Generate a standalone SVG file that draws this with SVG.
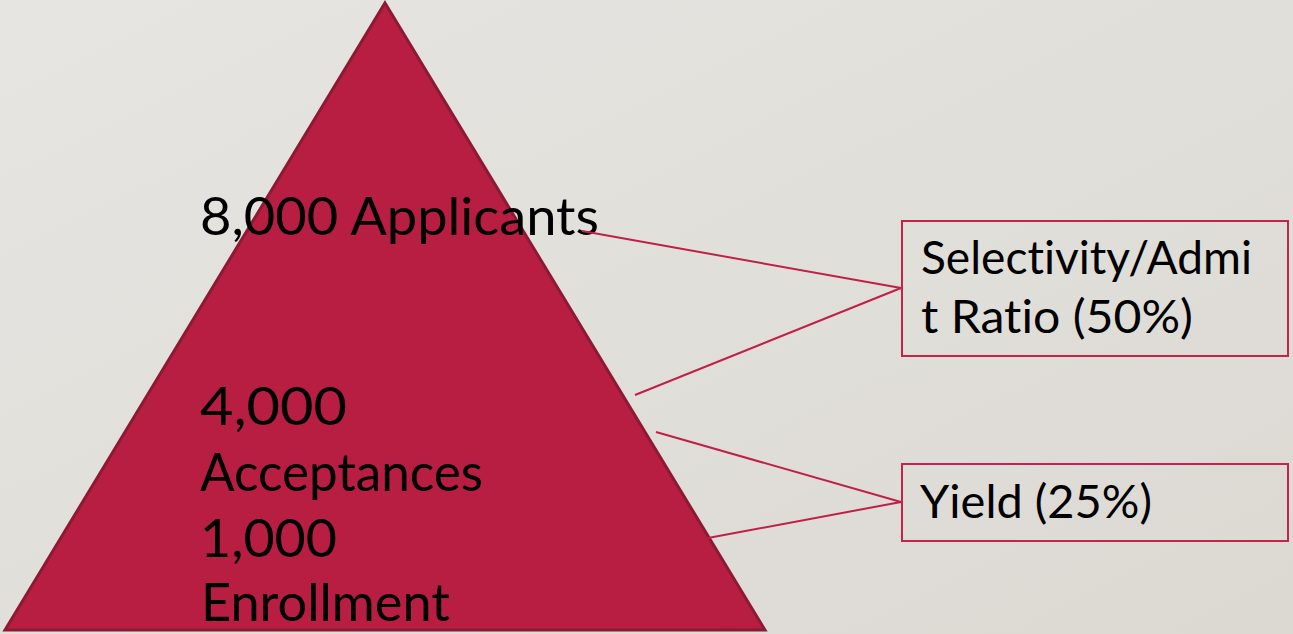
<svg xmlns="http://www.w3.org/2000/svg" width="1293" height="634" viewBox="0 0 1293 634">
<style>
.t{font-family:Lato,"Liberation Sans",sans-serif;fill:#000;font-variant-ligatures:none;font-feature-settings:"liga" 0}
.big{font-size:53px}
.sm{font-size:47px}
.box{fill:none;stroke:#c5234c;stroke-width:2}
.conn{stroke:#c11f48;stroke-width:2;fill:none}
</style>
<defs>
<linearGradient id="bg" x1="0" y1="0" x2="1" y2="1">
<stop offset="0" stop-color="#e6e5e1"/>
<stop offset="1" stop-color="#dcd9d3"/>
</linearGradient>
</defs>
<rect width="1293" height="634" fill="url(#bg)"/>
<g id="pyramid">
<polygon points="385,3 765,630 5,630" fill="#b71e42" stroke="#8d1a35" stroke-width="3" stroke-linejoin="miter"/>
<text class="t big" x="200" y="235" textLength="399" lengthAdjust="spacingAndGlyphs">8,000 Applicants</text>
<text class="t big" x="200" y="425" textLength="147" lengthAdjust="spacingAndGlyphs">4,000</text>
<text class="t big" x="200" y="491" textLength="283" lengthAdjust="spacingAndGlyphs">Acceptances</text>
<text class="t big" x="200" y="557" textLength="137" lengthAdjust="spacingAndGlyphs">1,000</text>
<text class="t big" x="201" y="621" textLength="249" lengthAdjust="spacingAndGlyphs">Enrollment</text>
</g>
<g id="connectors">
<line class="conn" x1="582" y1="231" x2="901" y2="288"/>
<line class="conn" x1="635" y1="395" x2="901" y2="288"/>
<line class="conn" x1="656" y1="432" x2="901" y2="502"/>
<line class="conn" x1="708" y1="538" x2="901" y2="502"/>
</g>
<g id="selectivity">
<rect class="box" x="902" y="221" width="386" height="135"/>
<text class="t sm" x="921" y="274" textLength="331" lengthAdjust="spacingAndGlyphs">Selectivity/Admi</text>
<text class="t sm" x="921" y="333" textLength="272" lengthAdjust="spacingAndGlyphs">t Ratio (50%)</text>
</g>
<g id="yield">
<rect class="box" x="902" y="464" width="386" height="77"/>
<text class="t sm" x="920" y="518" textLength="232" lengthAdjust="spacingAndGlyphs">Yield (25%)</text>
</g>
</svg>
